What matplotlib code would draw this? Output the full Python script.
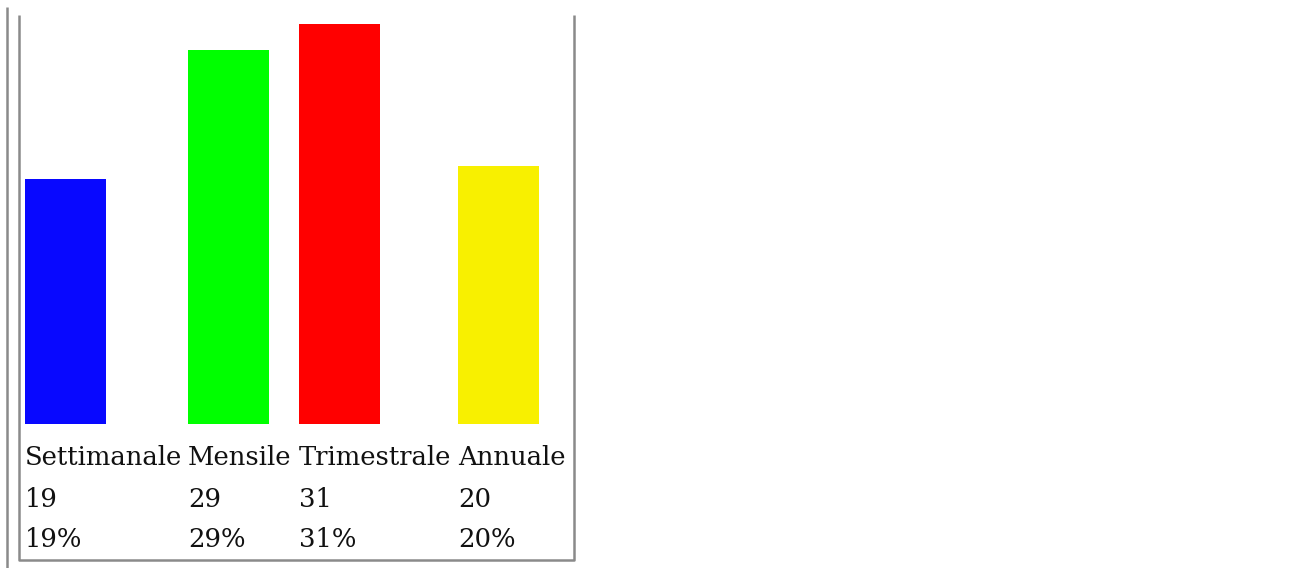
import matplotlib.pyplot as plt

# table bar chart: period -> count, percent
periods = ["Settimanale", "Mensile", "Trimestrale", "Annuale"]
counts = [19, 29, 31, 20]
percents = [19, 29, 31, 20]
colors = ["#0808ff", "#00ff00", "#ff0000", "#f8f000"]

# layout in pixels (the table cells)
col_left = [25, 188, 299, 458]
bar_width = 81
bar_base = 424
px_per_unit = 12.9

fig = plt.figure(figsize=(12.9, 5.68), dpi=100)
ax = fig.add_axes([0, 0, 1, 1])
ax.set_xlim(0, 1290)
ax.set_ylim(568, 0)
ax.axis("off")

heights = [-c * px_per_unit for c in counts]
ax.bar(col_left, heights, width=bar_width, bottom=bar_base, align="edge",
       color=colors, linewidth=0)

# table borders
grey = "#8a8a8a"
ax.plot([7, 7], [7, 568], color=grey, lw=1.8, solid_capstyle="butt")
ax.plot([19, 19, 573.5, 573.5], [15, 559.5, 559.5, 15], color=grey, lw=1.8,
        solid_capstyle="butt")

font = dict(family="DejaVu Serif", size=18.6, color="#111111")
for x, name, c, p in zip(col_left, periods, counts, percents):
    ax.text(x, 465, name, ha="left", va="baseline", **font)
    ax.text(x, 507, str(c), ha="left", va="baseline", **font)
    ax.text(x, 547, f"{p}%", ha="left", va="baseline", **font)

fig.savefig("out.png", dpi=100)
